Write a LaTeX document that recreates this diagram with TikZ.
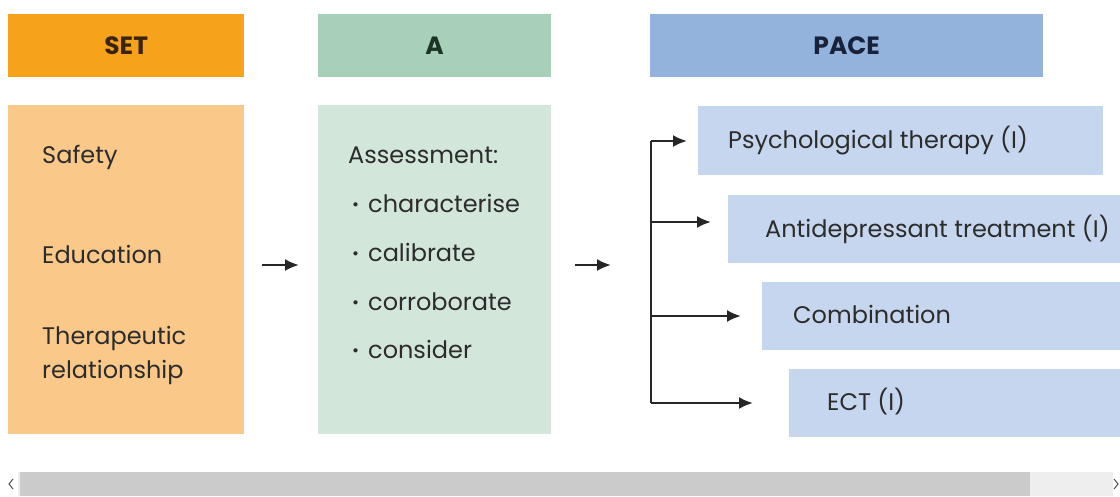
\documentclass[tikz,border=0pt]{standalone}
\usepackage{fontspec}
\setmainfont{Poppins}
\usetikzlibrary{arrows.meta}
\definecolor{setHead}{HTML}{F7A21B}
\definecolor{setBody}{HTML}{FAC98A}
\definecolor{aHead}{HTML}{A8D0B8}
\definecolor{aBody}{HTML}{D3E6DA}
\definecolor{paceHead}{HTML}{93B3DD}
\definecolor{paceBody}{HTML}{C7D6EF}
\definecolor{ink}{HTML}{2C2C2C}
\definecolor{setInk}{HTML}{3A2410}
\definecolor{aInk}{HTML}{1C3426}
\definecolor{paceInk}{HTML}{18223A}
\definecolor{barDark}{HTML}{CBCBCB}
\definecolor{barLight}{HTML}{EEEEEE}
\newcommand{\dotmark}{\makebox[16pt][l]{\raisebox{0.12ex}{\fontsize{17}{17}\selectfont •}}}
\tikzset{
  box/.style={draw=none, anchor=north west, inner sep=0pt},
  head/.style={font=\bfseries\fontsize{25}{28}\selectfont},
  txt/.style={font=\fontsize{24}{34}\selectfont, text=ink, anchor=base west, inner sep=0pt},
  arr/.style={line width=2.2pt, draw=black!85, -{Latex[length=14pt,width=12pt]}},
  trunk/.style={line width=2.2pt, draw=black!85}
}
\begin{document}
\begin{tikzpicture}[x=1pt,y=-1pt]
\useasboundingbox (0,0) rectangle (1120,496);
\clip (0,0) rectangle (1120,496);

% column headers
\node[box, head, text=setInk, fill=setHead, minimum width=236pt, minimum height=63pt] (sethead) at (8,14) {SET};
\node[box, head, text=aInk, fill=aHead, minimum width=233pt, minimum height=63pt] (ahead) at (318,14) {A};
\node[box, head, text=paceInk, fill=paceHead, minimum width=393pt, minimum height=63pt] (pacehead) at (650,14) {PACE};

% SET column
\node[box, fill=setBody, minimum width=236pt, minimum height=329pt] (setbody) at (8,105) {};
\node[txt] (safety) at (42,163) {Safety};
\node[txt] (education) at (42,263) {Education};
\node[txt] (therapeutic) at (42,344) {Therapeutic};
\node[txt] (relationship) at (42,378) {relationship};

% A column
\node[box, fill=aBody, minimum width=233pt, minimum height=329pt] (abody) at (318,105) {};
\node[txt] (assess) at (348,163) {Assessment:};
\node[txt] (c1) at (352,212) {\dotmark characterise};
\node[txt] (c2) at (352,261) {\dotmark calibrate};
\node[txt] (c3) at (352,310) {\dotmark corroborate};
\node[txt] (c4) at (352,358) {\dotmark consider};

% PACE options
\node[box, fill=paceBody, minimum width=405pt, minimum height=69pt] (p1) at (698,106) {};
\node[box, fill=paceBody, minimum width=400pt, minimum height=68pt] (p2) at (728,195) {};
\node[box, fill=paceBody, minimum width=370pt, minimum height=68pt] (p3) at (762,282) {};
\node[box, fill=paceBody, minimum width=340pt, minimum height=68pt] (p4) at (789,369) {};
\node[txt] (p1t) at (728,148) {Psychological therapy (I)};
\node[txt] (p2t) at (765,237) {Antidepressant treatment (I)};
\node[txt] (p3t) at (793,323) {Combination};
\node[txt] (p4t) at (827,410) {ECT (I)};

% flow arrows between columns
\coordinate (s1) at (262,265);
\coordinate (e1) at (299,265);
\coordinate (s2) at (575,265);
\coordinate (e2) at (611,265);
\draw[arr] (s1) -- (e1);
\draw[arr] (s2) -- (e2);

% branching to the four options
\coordinate (b1) at (651,141);
\coordinate (b2) at (651,222);
\coordinate (b3) at (651,316);
\coordinate (b4) at (651,403);
\coordinate (t1) at (687,141);
\coordinate (t2) at (711,222);
\coordinate (t3) at (741,316);
\coordinate (t4) at (753,403);
\draw[trunk] (b1) -- (b4);
\draw[arr] (b1) -- (t1);
\draw[arr] (b2) -- (t2);
\draw[arr] (b3) -- (t3);
\draw[arr] (b4) -- (t4);

% horizontal scroll bar
\fill[barLight] (0,472) rectangle (1120,496);
\fill[barDark] (20,472) rectangle (1030,496);
\fill[white] (0,472) rectangle (18,496);
\fill[white] (1113,472) rectangle (1120,496);
\draw[black!70, line width=1pt] (13,479) -- (9,484) -- (13,489);
\draw[black!70, line width=1pt] (1114,479) -- (1118,484) -- (1114,489);
\end{tikzpicture}
\end{document}
